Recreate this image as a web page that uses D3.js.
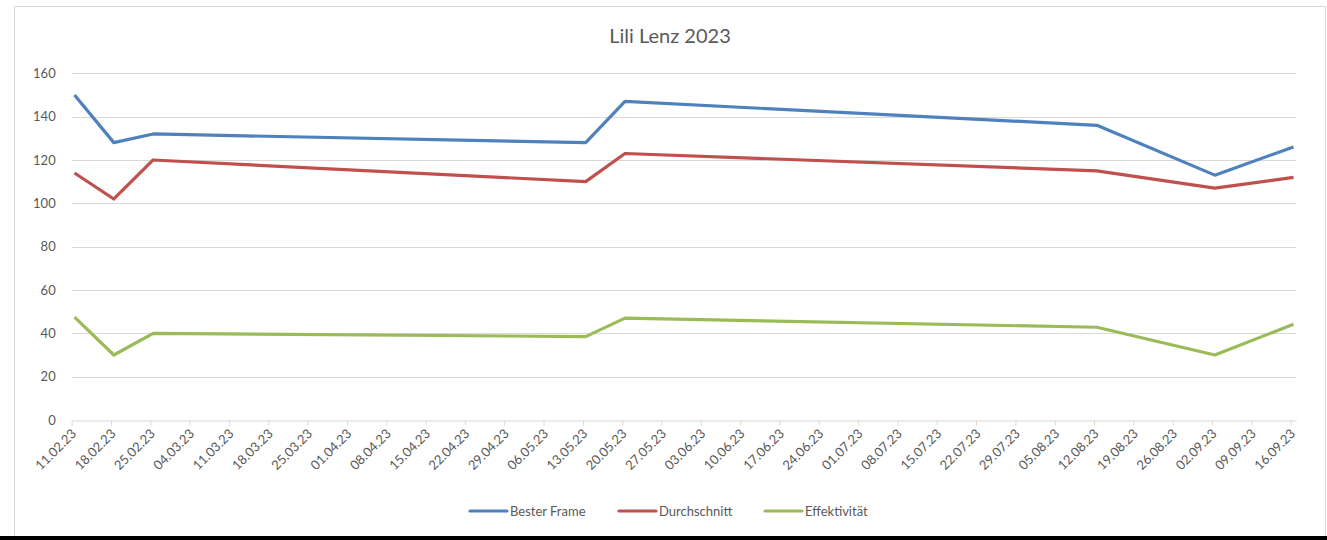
<!DOCTYPE html>
<html>
<head>
<meta charset="utf-8">
<script src="https://cdn.jsdelivr.net/npm/d3@7"></script>
<style>
  body { margin: 0; background: #fff; }
  svg { display: block; font-family: Lato, "Open Sans", sans-serif; }
</style>
</head>
<body>
<div id="chart"></div>
<script>
// data
const dates = ["11.02.23", "18.02.23", "25.02.23", "13.05.23", "20.05.23", "12.08.23", "02.09.23", "16.09.23"];
const besterFrame = [150, 128, 132, 128, 147, 136, 113, 126];
const durchschnitt = [114, 102, 120, 110, 123, 115, 107, 112];
const effektivitaet = [47.5, 30, 40, 38.5, 47, 42.8, 30, 44.2];
const seriesNames = ["Bester Frame", "Durchschnitt", "Effektivität"];
const yTicks = [0, 20, 40, 60, 80, 100, 120, 140, 160];

const parse = d3.timeParse("%d.%m.%y");
const fmt = d3.timeFormat("%d.%m.%y");

const width = 1327, height = 540;
const colors = ["#4f81bd", "#c0504d", "#9bbb59"];

const svg = d3.select("#chart")
    .append("svg")
    .attr("width", width)
    .attr("height", height)
    .attr("viewBox", [0, 0, width, height]);

// chart area frame
svg.append("rect")
    .attr("x", 14.5).attr("y", 6.5)
    .attr("width", 1311).attr("height", 535)
    .attr("fill", "#fff")
    .attr("stroke", "#d9d9d9");

svg.append("rect")
    .attr("x", 0).attr("y", 536)
    .attr("width", width).attr("height", 4)
    .attr("fill", "#000");

const start = parse(dates[0]);
const end = d3.timeDay.offset(parse(dates[dates.length - 1]), 1);

let x = d3.scaleTime()
    .domain([start, end])
    .range([71.7, 1296.3]);

let y = d3.scaleLinear()
    .domain([0, 160])
    .range([420, 73.3]);

// gridlines
svg.append("g")
    .selectAll("line")
    .data(yTicks.slice(1))
    .join("line")
    .attr("x1", x.range()[0]).attr("x2", x.range()[1])
    .attr("y1", d => Math.round(y(d)) + 0.5)
    .attr("y2", d => Math.round(y(d)) + 0.5)
    .attr("stroke", "#d9d9d9")
    .attr("stroke-width", 1);

// y axis labels
const yAxis = g => g
    .attr("transform", `translate(${x.range()[0] - 16}, 0)`)
    .call(d3.axisLeft(y).tickValues(yTicks).tickSize(0).tickPadding(0))
    .call(g => g.select(".domain").remove())
    .call(g => g.selectAll("text")
        .attr("fill", "#595959")
        .attr("font-size", "13px")
        .attr("font-family", "Lato, 'Open Sans', sans-serif"));

svg.append("g").call(yAxis);

// x axis, weekly ticks
const xTicks = d3.timeDay.every(7).range(start, d3.timeDay.offset(end, 1))
    .filter((d, i) => d3.timeDay.count(start, d) % 7 === 0);

const xAxis = g => g
    .attr("transform", `translate(0, ${Math.round(y(0)) + 0.5})`)
    .call(d3.axisBottom(x).tickValues(d3.range(0, 32).map(i => d3.timeDay.offset(start, i * 7)))
        .tickFormat(fmt).tickSize(5).tickSizeOuter(0))
    .call(g => g.select(".domain").attr("stroke", "#d9d9d9"))
    .call(g => g.selectAll(".tick line").attr("stroke", "#d9d9d9"))
    .call(g => g.selectAll("text")
        .attr("fill", "#595959")
        .attr("font-size", "13px")
        .attr("font-family", "Lato, 'Open Sans', sans-serif")
        .attr("text-anchor", "end")
        .attr("dy", null)
        .attr("y", 0)
        .attr("transform", "translate(5, 14) rotate(-45)"));

svg.append("g").call(xAxis);

// lines
const allSeries = [besterFrame, durchschnitt, effektivitaet];
const line = d3.line()
    .x((d, i) => x(d3.timeHour.offset(parse(dates[i]), 12)))
    .y(d => y(d));

svg.append("g")
    .selectAll("path")
    .data(allSeries)
    .join("path")
    .attr("fill", "none")
    .attr("stroke", (d, i) => colors[i])
    .attr("stroke-width", 3.2)
    .attr("stroke-linejoin", "round")
    .attr("d", line);

// title
svg.append("text")
    .attr("x", 670)
    .attr("y", 43)
    .attr("text-anchor", "middle")
    .attr("fill", "#595959")
    .attr("font-size", "20px")
    .text("Lili Lenz 2023");

// legend
const legendX = [470, 619, 765];
const leg = svg.append("g")
    .selectAll("g")
    .data(seriesNames)
    .join("g")
    .attr("transform", (d, i) => `translate(${legendX[i]}, 511)`);

leg.append("line")
    .attr("x1", 0).attr("x2", 37)
    .attr("stroke", (d, i) => colors[i])
    .attr("stroke-width", 3.2)
    .attr("stroke-linecap", "round");

leg.append("text")
    .attr("x", 40)
    .attr("y", 4.5)
    .attr("fill", "#595959")
    .attr("font-size", "13px")
    .text(d => d);
</script>
</body>
</html>
